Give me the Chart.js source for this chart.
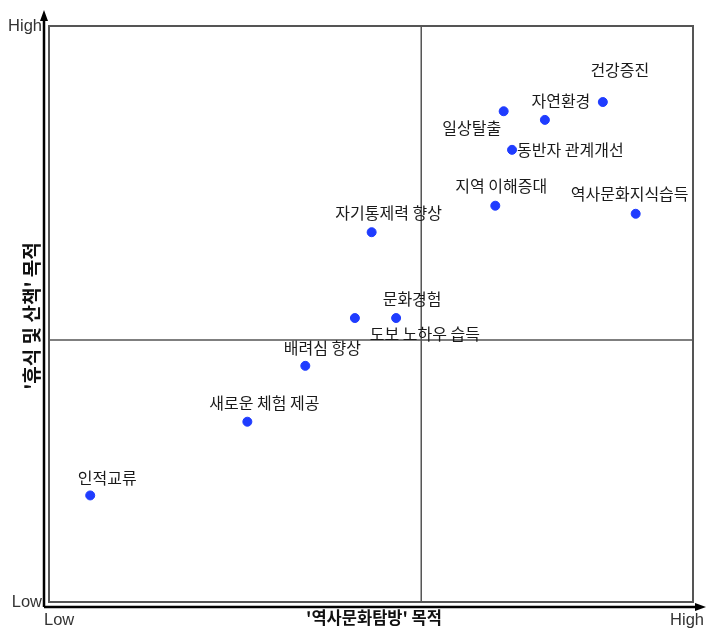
<!DOCTYPE html>
<html>
<head>
<meta charset="utf-8">
<script src="https://cdn.jsdelivr.net/npm/chart.js@4"></script>
<style>
	html, body { margin: 0; padding: 0; background: #fff; }
	#wrap { width: 709px; height: 631px; }
</style>
</head>
<body>
<div id="wrap"><canvas id="mycanvas" width="709" height="631"></canvas></div>
<script>
var Names = ["건강증진", "자연환경", "일상탈출", "동반자 관계개선", "지역 이해증대", "역사문화지식습득",
	"자기통제력 향상", "문화경험", "도보 노하우 습득", "배려심 향상", "새로운 체험 제공", "인적교류"];
var XValues = [86.0, 77.0, 70.6, 71.9, 69.3, 91.1, 50.1, 53.9, 47.5, 39.8, 30.8, 6.4];
var YValues = [86.8, 83.7, 85.2, 78.5, 68.8, 67.4, 64.2, 49.3, 49.3, 41.0, 31.3, 18.5];
var XMid = 57.8;
var YMid = 45.5;
var XTitle = "'역사문화탐방' 목적";
var YTitle = "'휴식 및 산책' 목적";

// label placement relative to each dot (pixels)
var LabelDx = [17, 16, -32, 5, 6, -6, 17, 16, 70, 17, 17, 17];
var LabelDy = [-32, -19, 17, 0, -20, -20, -19, -19, 16, -18, -19, -18];
var LabelAlign = ["center", "center", "center", "left", "center", "center", "center", "center", "center", "center", "center", "center"];

var points = [];
for (var i in Names) {
	points.push({x: XValues[i], y: YValues[i]});
}

var decor = {
	id: 'decor',
	beforeDatasetsDraw: function(chart) {
		var c = chart.ctx;
		var a = chart.chartArea;
		var xs = chart.scales.x, ys = chart.scales.y;
		c.save();
		// frame
		c.strokeStyle = '#555';
		c.lineWidth = 2;
		c.strokeRect(a.left, a.top, a.right - a.left, a.bottom - a.top);
		// cross lines
		c.lineWidth = 1.5;
		var mx = xs.getPixelForValue(XMid), my = ys.getPixelForValue(YMid);
		c.beginPath();
		c.moveTo(mx, a.top); c.lineTo(mx, a.bottom);
		c.moveTo(a.left, my); c.lineTo(a.right, my);
		c.stroke();
		// outer arrows
		c.strokeStyle = '#000';
		c.fillStyle = '#000';
		c.lineWidth = 2.5;
		c.beginPath();
		c.moveTo(a.left - 5, a.bottom + 5); c.lineTo(a.left - 5, 18);
		c.moveTo(a.left - 5, a.bottom + 5); c.lineTo(698, a.bottom + 5);
		c.stroke();
		c.beginPath();
		c.moveTo(a.left - 5, 10); c.lineTo(a.left - 9, 21); c.lineTo(a.left - 1, 21); c.closePath();
		c.moveTo(706, a.bottom + 5); c.lineTo(695, a.bottom + 1); c.lineTo(695, a.bottom + 9); c.closePath();
		c.fill();
		// High / Low
		c.fillStyle = '#333';
		c.font = '16.5px "Liberation Sans", Arial, sans-serif';
		c.textBaseline = 'middle';
		c.textAlign = 'right';
		c.fillText('High', a.left - 7, a.top);
		c.fillText('Low', a.left - 7, a.bottom);
		c.textAlign = 'left';
		c.fillText('Low', a.left - 5, a.bottom + 18);
		c.textAlign = 'right';
		c.fillText('High', 704, a.bottom + 18);
		// axis titles
		c.fillStyle = '#111';
		c.font = 'bold 16.5px "Noto Sans CJK KR", sans-serif';
		c.textAlign = 'center';
		c.fillText(XTitle, (a.left + a.right) / 2 + 3, a.bottom + 16);
		c.font = 'bold 19px "Noto Sans CJK KR", sans-serif';
		c.translate(32, (a.top + a.bottom) / 2 + 2);
		c.rotate(-Math.PI / 2);
		c.fillText(YTitle, 0, 0);
		c.restore();
	},
	afterDatasetsDraw: function(chart) {
		var c = chart.ctx;
		var xs = chart.scales.x, ys = chart.scales.y;
		c.save();
		c.fillStyle = '#1a1a1a';
		c.font = '16px "Noto Sans CJK KR", sans-serif';
		c.textBaseline = 'middle';
		for (var i in Names) {
			c.textAlign = LabelAlign[i];
			c.fillText(Names[i], xs.getPixelForValue(XValues[i]) + LabelDx[i], ys.getPixelForValue(YValues[i]) + LabelDy[i]);
		}
		c.restore();
	}
};

var ctx = document.getElementById('mycanvas');
var scatter = new Chart(ctx, {
	type: 'scatter',
	data: {
		datasets: [{
			label: 'points',
			data: points,
			backgroundColor: '#1f3cff',
			borderColor: '#1f3cff',
			pointRadius: 4.5,
			pointHoverRadius: 4.5
		}]
	},
	options: {
		responsive: false,
		animation: false,
		layout: { padding: { left: 49, right: 16, top: 26, bottom: 29 } },
		plugins: { legend: { display: false }, tooltip: { enabled: false } },
		scales: {
			x: { type: 'linear', min: 0, max: 100, display: false },
			y: { type: 'linear', min: 0, max: 100, display: false }
		}
	},
	plugins: [decor]
});
</script>
</body>
</html>
